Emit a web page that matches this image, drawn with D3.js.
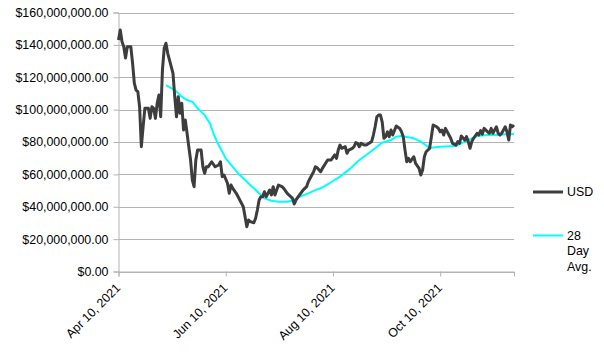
<!DOCTYPE html>
<html>
<head>
<meta charset="utf-8">
<script src="https://cdn.jsdelivr.net/npm/d3@7"></script>
<style>
  body { margin: 0; background: #fff; }
  text { font-family: "Liberation Sans", Arial, sans-serif; font-size: 12px; fill: #000; }
</style>
</head>
<body>
<svg id="chart" width="604" height="354"></svg>
<script>
// day offsets from the first date, values in millions of USD
const startDate = "2021-04-10";
const endDay = 225;

const usdDays = [0,1,2,3,4,5,7,8,9,10,11,12,13,14,15,17,18,19,20,21,22,23,24,25,26,27,28,30,31,32,33,34,35,36,37,38,39,40,41,42,43,44,45,47,48,49,50,51,53,55,57,58,59,60,62,63,64,65,67,69,71,72,73,74,75,77,78,79,80,81,82,83,84,86,87,88,89,90,91,93,94,96,98,99,100,101,103,105,107,108,110,111,112,113,115,116,118,119,121,123,124,125,126,127,129,130,131,133,134,135,136,137,138,140,141,143,144,145,146,147,148,149,150,151,152,153,154,155,156,158,160,161,162,163,164,165,166,168,169,171,172,173,174,175,177,178,179,181,182,183,184,185,186,188,189,190,192,193,194,195,197,198,199,200,201,202,204,205,206,207,208,210,211,212,213,215,216,217,218,220,221,222,223,224,225];
const usdValues = [143,149.2,141.9,138.9,131.9,138.9,138.9,128.8,116.4,112.1,111.1,101.8,77.1,89.4,100.8,100.8,94.6,101.8,100.8,94.6,103.9,109.0,95.6,124.5,137.9,141.0,134.8,126.5,122.4,108.0,95.6,108.0,97.7,103.9,87.4,93.6,85.4,77.1,68.9,56.5,52.4,68.9,75.0,75.0,64.7,60.7,64.7,64.7,67.8,64.7,65.8,67.8,58.6,59.6,54.5,48.3,53.4,51.4,48.3,44.2,40.0,33.8,27.7,31.8,30.8,30.1,32.9,38.0,44.2,46.2,46.2,49.3,46.2,50.3,47.3,52.4,47.3,50.3,53.4,52.4,51.4,48.3,46.2,45.2,41.7,44.2,47.3,50.3,52.4,55.5,59.6,61.6,64.7,64.1,61.6,63.7,67.2,68.9,68.9,72.0,69.9,75.0,78.1,76.1,77.1,73.0,75.0,76.1,77.1,79.6,79.2,77.1,79.2,78.1,78.1,79.6,80.2,84.3,89.4,95.6,96.7,96.7,92.5,82.3,83.3,86.3,83.3,87.4,84.3,89.9,88.4,86.3,83.3,75.0,67.8,69.9,67.8,70.9,66.8,63.7,59.6,62.7,70.9,74.0,76.1,83.3,90.5,89.4,88.4,86.3,87.4,84.3,88.4,84.3,82.3,79.2,78.1,80.2,79.2,83.7,81.2,83.3,80.2,76.1,80.2,82.3,85.4,84.3,87.0,84.9,88.4,86.3,85.4,88.4,85.4,89.4,85.4,84.3,85.4,89.4,86.3,81.2,90.5,89.4,90.5];

const avgDays = [27,32,36,39,42,45,49,52,54,56,58,61,65,68,72,76,80,83,87,91,96,100,103,108,112,115,120,126,132,137,141,146,150,155,158,161,164,168,172,176,178,183,192,195,200,204,210,217,221,225];
const avgValues = [115.2,112.1,108.0,105.9,104.9,100.8,96.7,91.5,85.4,80.2,76.1,69.9,64.7,60.7,56.5,52.4,48.3,45.2,43.7,43.1,43.1,44.2,46.2,48.3,50.3,51.4,54.5,58.6,63.7,68.9,72.0,76.1,79.6,81.2,83.3,83.7,83.1,82.3,80.2,77.1,76.5,77.1,77.5,79.2,81.7,83.7,84.3,84.3,84.9,84.9];

const xTickDates = ["2021-04-10","2021-06-10","2021-08-10","2021-10-10"];
const yTicks = [0,20,40,60,80,100,120,140,160];

const seriesNames = ["USD", "28 Day Avg."];
const seriesColors = ["#3d3d3d", "#00ffff"];

const svg = d3.select("#chart");
const margin = {top: 12.5, right: 90, bottom: 82.5, left: 118.5};
const width = +svg.attr("width"), height = +svg.attr("height");

const parse = d3.utcParse("%Y-%m-%d");
const start = parse(startDate);
const dayToDate = d => d3.utcDay.offset(start, d);

const x = d3.scaleUtc()
    .domain([start, dayToDate(endDay)])
    .range([margin.left, width - margin.right]);
const y = d3.scaleLinear()
    .domain([0, 160])
    .range([height - margin.bottom, margin.top]);

// horizontal grid
svg.append("g")
    .selectAll("line")
    .data(yTicks)
    .join("line")
    .attr("x1", margin.left)
    .attr("x2", width - margin.right)
    .attr("y1", d => Math.round(y(d)) + 0.5)
    .attr("y2", d => Math.round(y(d)) + 0.5)
    .attr("stroke", "#b3b3b3");

// y axis
const yAxis = svg.append("g")
    .attr("transform", `translate(${margin.left},0)`)
    .call(d3.axisLeft(y)
        .tickValues(yTicks)
        .tickSize(5)
        .tickPadding(5)
        .tickFormat(d => d3.format("$,.2f")(d * 1e6)));
yAxis.select(".domain").attr("stroke", "#b3b3b3");
yAxis.selectAll(".tick line").attr("stroke", "#b3b3b3");
yAxis.selectAll(".tick text").style("font-size", "12.4px").attr("fill", "#000");

// x axis
const xAxis = svg.append("g")
    .attr("transform", `translate(0,${height - margin.bottom})`)
    .call(d3.axisBottom(x)
        .tickValues(xTickDates.map(parse))
        .tickSize(5)
        .tickFormat(d3.utcFormat("%b %-d, %Y")));
xAxis.select(".domain").attr("stroke", "#b3b3b3");
xAxis.selectAll(".tick line").attr("stroke", "#b3b3b3");
xAxis.selectAll(".tick text")
    .style("font-size", "12.4px")
    .attr("fill", "#000")
    .attr("text-anchor", "end")
    .attr("transform", "translate(-4,11) rotate(-45)")
    .attr("y", 0)
    .attr("dy", "0.7em");

const line = d3.line()
    .x(d => x(dayToDate(d[0])))
    .y(d => y(d[1]));

svg.append("path")
    .datum(avgDays.map((d, i) => [d, avgValues[i]]))
    .attr("d", line)
    .attr("fill", "none")
    .attr("stroke", seriesColors[1])
    .attr("stroke-width", 2)
    .attr("stroke-linejoin", "round");

svg.append("path")
    .datum(usdDays.map((d, i) => [d, usdValues[i]]))
    .attr("d", line)
    .attr("fill", "none")
    .attr("stroke", seriesColors[0])
    .attr("stroke-width", 3)
    .attr("stroke-linejoin", "round");

// legend
const legend = svg.append("g").attr("transform", "translate(533,192)");
legend.append("line")
    .attr("x1", 0).attr("x2", 30).attr("y1", 0).attr("y2", 0)
    .attr("stroke", seriesColors[0]).attr("stroke-width", 3);
legend.append("text")
    .attr("x", 34).attr("dy", "0.35em")
    .style("font-size", "12.4px")
    .text(seriesNames[0]);

legend.append("line")
    .attr("x1", 0).attr("x2", 30).attr("y1", 43.5).attr("y2", 43.5)
    .attr("stroke", seriesColors[1]).attr("stroke-width", 2);
const avgLabel = legend.append("text")
    .attr("x", 34).attr("y", 43.5)
    .style("font-size", "12.4px");
["28", "Day", "Avg."].forEach((w, i) => {
    avgLabel.append("tspan")
        .attr("x", 34)
        .attr("dy", i === 0 ? "0.35em" : "15.5px")
        .text(w);
});
</script>
</body>
</html>
